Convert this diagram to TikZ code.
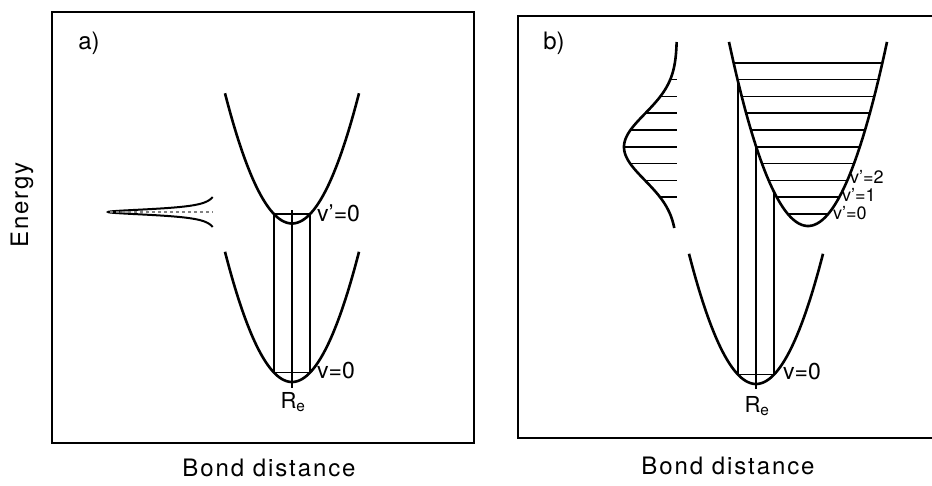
\documentclass[tikz,border=0pt]{standalone}
\usepackage{fontspec}
\setmainfont{TeX Gyre Heros}
\newfontfamily\spacedfont[LetterSpace=8]{TeX Gyre Heros}
\tikzset{
  pot/.style={line width=2.6pt},
  lvl/.style={line width=1.5pt},
  drop/.style={line width=1.4pt},
  frame/.style={line width=2.6pt},
  axlabel/.style={font=\spacedfont\fontsize{24}{28}\selectfont},
  tag/.style={font=\fontsize{24}{26}\selectfont},
  vlabel/.style={font=\fontsize{23}{25}\selectfont, inner sep=0pt, anchor=west},
  vsmall/.style={font=\fontsize{18}{20}\selectfont, inner sep=0pt, anchor=west},
  relabel/.style={font=\fontsize{22}{24}\selectfont, inner sep=0pt},
}
\begin{document}
\begin{tikzpicture}[x=1pt,y=-1pt]
\useasboundingbox (0,0) rectangle (932,485);
\node[axlabel,rotate=90] (energy) at (22,205) {Energy};
\draw[frame] (52,12) rectangle (474,443);
\node[tag] (taga) at (89,43) {a)};
\draw[pot] plot[domain=-67:67,samples=60,smooth] ({292+\x},{223.5-0.029*\x*\x});
\draw[pot] plot[domain=-67:67,samples=60,smooth] ({292+\x},{382-0.029*\x*\x});
\draw[lvl] (274,214.1) -- (310,214.1);
\draw[lvl] (274,372.6) -- (310,372.6);
\draw[drop] (274,214.1) -- (274,372.6);
\draw[drop] (310,214.1) -- (310,372.6);
\draw[drop] (292,210) -- (292,388);
\draw[line width=2pt] plot[domain=-15:15,samples=151,smooth] ({219-111/(1+(\x/3.7)*(\x/3.7))},{212+\x});
\draw[dashed,gray,line width=1.2pt] (110,212) -- (213,212);
\node[vlabel] (vup) at (317,213) {v'=0};
\node[vlabel] (vlow) at (317,371) {v=0};
\node[relabel] (rea) at (293,402) {R\textsubscript{e}};
\node[axlabel] (bonda) at (269,468) {Bond distance};
\draw[frame] (932,16) -- (518,16) -- (518,438) -- (932,438);
\node[tag] (tagb) at (554,43) {b)};
\draw[pot] plot[domain=-79:79,samples=60,smooth] ({808+\x},{226-0.0295*\x*\x});
\draw[pot] plot[domain=-67:67,samples=60,smooth] ({756+\x},{384-0.029*\x*\x});
\foreach \n in {0,...,9}{
  \pgfmathsetmacro\lv{214-16.8*\n}
  \pgfmathsetmacro\hw{sqrt((226-\lv)/0.0295)}
  \draw[lvl] ({808-\hw},\lv) -- ({808+\hw},\lv);
}
\draw[pot] plot[domain=42:228,samples=80,smooth] ({677-53*exp(0-((\x-147)/47)*((\x-147)/47))},\x);
\foreach \n in {1,...,8}{
  \pgfmathsetmacro\lv{214-16.8*\n}
  \pgfmathsetmacro\gx{677-53*exp(0-((\lv-147)/47)*((\lv-147)/47))}
  \draw[lvl] (\gx,\lv) -- (677,\lv);
}
\draw[lvl] (738,374.6) -- (774,374.6);
\draw[drop] (738,374.6) -- (738,81.5);
\draw[drop] (756,389) -- (756,146.2);
\draw[drop] (774,374.6) -- (774,191.9);
\node[vsmall] (vb2) at (850,177) {v'=2};
\node[vsmall] (vb1) at (842,195) {v'=1};
\node[vsmall] (vb0) at (833,213) {v'=0};
\node[vlabel] (vbl) at (783,372) {v=0};
\node[relabel] (reb) at (757,406) {R\textsubscript{e}};
\node[axlabel] (bondb) at (728,466) {Bond distance};
\end{tikzpicture}
\end{document}
